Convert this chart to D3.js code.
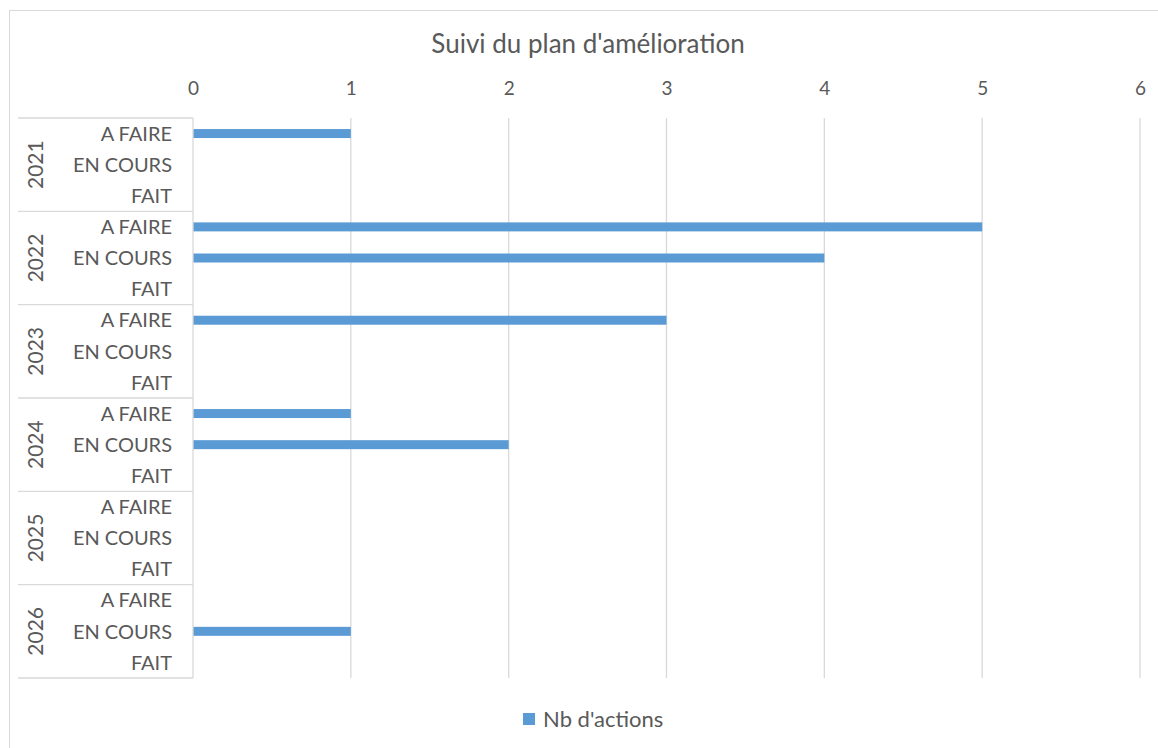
<!DOCTYPE html>
<html><head><meta charset="utf-8">
<script src="https://cdn.jsdelivr.net/npm/d3@7"></script>
<style>body{margin:0;background:#fff;} text{font-family:Lato,"Open Sans",sans-serif;fill:#595959;}</style>
</head><body>
<svg id="c" width="1158" height="748"></svg>
<script>
const years = ["2021","2022","2023","2024","2025","2026"];
const statuses = ["A FAIRE","EN COURS","FAIT"];
const values = [
  [1,0,0],
  [5,4,0],
  [3,0,0],
  [1,2,0],
  [0,0,0],
  [0,1,0]
];
const xTicks = [0,1,2,3,4,5,6];
const title = "Suivi du plan d'amélioration";
const seriesName = "Nb d'actions";

const svg = d3.select("#c");
const L = 193, R = 1140, T = 118, B = 678;
const rows = [];
years.forEach((y,i)=>statuses.forEach((s,j)=>rows.push({key:y+"|"+s,year:y,status:s,v:values[i][j]})));

svg.append("rect").attr("x",9.5).attr("y",10.5).attr("width",1160).attr("height",760)
  .attr("fill","#fff").attr("stroke","#d9d9d9");

const x = d3.scaleLinear().domain([0,6]).range([L,R]);
const y = d3.scaleBand().domain(rows.map(d=>d.key)).range([T,B]);
const yg = d3.scaleBand().domain(years).range([T,B]);

// gridlines
svg.append("g").selectAll("line").data(xTicks.slice(1)).join("line")
  .attr("x1",d=>x(d)).attr("x2",d=>x(d)).attr("y1",T).attr("y2",B)
  .attr("stroke","#d9d9d9").attr("stroke-width",1.3);

// top axis labels
const ax = svg.append("g").attr("transform",`translate(0,${T})`)
  .call(d3.axisTop(x).tickValues(xTicks).tickFormat(d3.format("d")).tickSize(0).tickPadding(23));
ax.select(".domain").remove();
ax.selectAll("text").attr("font-size",19).style("font-family","Lato,'Open Sans',sans-serif").attr("fill","#595959");

// bars
const bh = 9;
svg.append("g").selectAll("rect").data(rows.filter(d=>d.v>0)).join("rect")
  .attr("x",x(0)).attr("y",d=>y(d.key)+y.bandwidth()/2-bh/2)
  .attr("width",d=>x(d.v)-x(0)).attr("height",bh).attr("fill","#5b9bd5");

// axis line
svg.append("line").attr("x1",L).attr("x2",L).attr("y1",T).attr("y2",B).attr("stroke","#d9d9d9").attr("stroke-width",1.3);
// group separators
const seps = years.map(yr=>yg(yr)).concat([B]);
svg.append("g").selectAll("line").data(seps).join("line")
  .attr("x1",18).attr("x2",L).attr("y1",d=>d).attr("y2",d=>d)
  .attr("stroke","#d9d9d9").attr("stroke-width",1.3);

// category labels
svg.append("g").selectAll("text").data(rows).join("text")
  .attr("x",172).attr("y",d=>y(d.key)+y.bandwidth()/2).attr("dy","0.36em")
  .attr("text-anchor","end").attr("font-size",20).text(d=>d.status);

// year labels
svg.append("g").selectAll("text").data(years).join("text")
  .attr("transform",d=>`translate(35,${yg(d)+yg.bandwidth()/2}) rotate(-90)`)
  .attr("dy","0.36em").attr("text-anchor","middle").attr("font-size",21).text(d=>d);

// title
svg.append("text").attr("x",588).attr("y",44).attr("dy","0.36em").attr("text-anchor","middle")
  .attr("font-size",26).text(title);

// legend
const lg = svg.append("g").attr("transform","translate(523,719)");
lg.append("rect").attr("x",0).attr("y",-6).attr("width",12).attr("height",12).attr("fill","#5b9bd5");
lg.append("text").attr("x",20).attr("y",0).attr("dy","0.36em").attr("font-size",22).text(seriesName);
</script>
</body></html>
